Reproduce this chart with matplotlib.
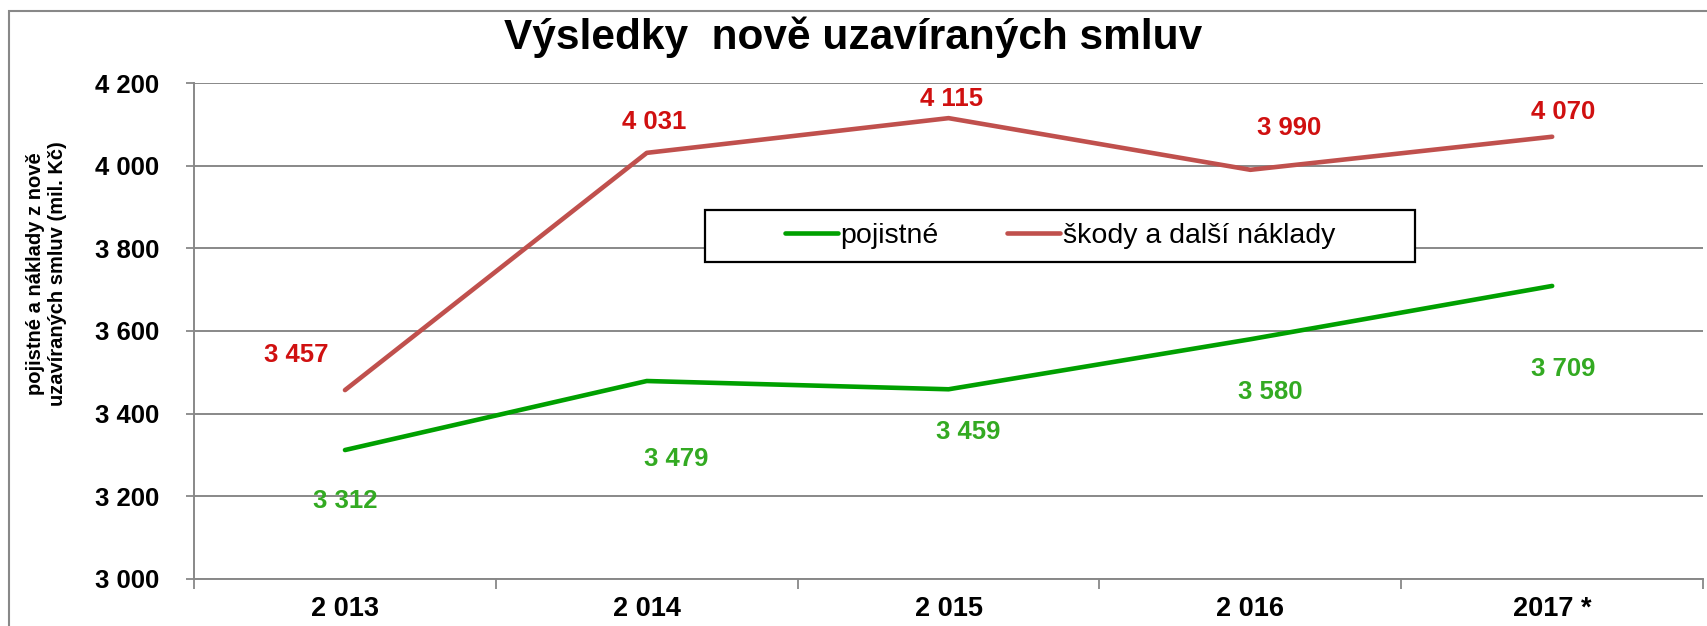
import matplotlib.pyplot as plt
from matplotlib import ticker
from matplotlib.patches import Rectangle

years = ['2 013', '2 014', '2 015', '2 016', '2017 *']
pojistne = [3312, 3479, 3459, 3580, 3709]
skody = [3457, 4031, 4115, 3990, 4070]

# label offsets in points (dx, dy)
offs_pojistne = [(0, -37), (21, -56), (14, -31), (14, -38), (8, -60)]
offs_skody = [(-35, 25), (5, 22), (2, 14), (28, 30), (8, 18)]

c_green = '#00A000'
c_red = '#C0504D'
c_green_txt = '#33AA22'
c_red_txt = '#D01010'

plt.rcParams['font.family'] = ['Liberation Sans', 'DejaVu Sans']

def fmt(v, pos=None):
    return '{:,}'.format(int(v)).replace(',', ' ')

fig = plt.figure(figsize=(17.07, 6.26), dpi=100)
ax = fig.add_axes([0.1137, 0.0751, 0.884, 0.7923])

x = list(range(len(years)))
ax.plot(x, pojistne, color=c_green, lw=3.3, solid_capstyle='round', label='pojistné', zorder=3)
ax.plot(x, skody, color=c_red, lw=3.3, solid_capstyle='round', label='škody a další náklady', zorder=3)

for i in x:
    ax.annotate(fmt(pojistne[i]), (i, pojistne[i]), xytext=offs_pojistne[i],
                textcoords='offset points', ha='center', va='center',
                color=c_green_txt, fontsize=18.5, fontweight='bold')
    ax.annotate(fmt(skody[i]), (i, skody[i]), xytext=offs_skody[i],
                textcoords='offset points', ha='center', va='center',
                color=c_red_txt, fontsize=18.5, fontweight='bold')

ax.set_xlim(-0.5, len(years) - 0.5)
ax.set_ylim(3000, 4200)
ax.yaxis.set_major_locator(ticker.MultipleLocator(200))
ax.yaxis.set_major_formatter(ticker.FuncFormatter(fmt))
ax.set_xticks(x)
ax.set_xticklabels(years)
ax.set_xticks([i - 0.5 for i in range(len(years) + 1)], minor=True)
ax.tick_params(axis='x', which='major', length=0, pad=12, labelsize=19.5)
ax.tick_params(axis='x', which='minor', length=7, width=1.3, color='#888888', direction='out')
ax.tick_params(axis='y', length=6, width=1.3, color='#888888', pad=19, labelsize=18.5)
for lab in ax.get_xticklabels() + ax.get_yticklabels():
    lab.set_fontweight('bold')

ax.grid(axis='y', color='#888888', linewidth=1.4)
ax.set_axisbelow(True)
for s in ['top', 'right']:
    ax.spines[s].set_visible(False)
for s in ['left', 'bottom']:
    ax.spines[s].set_color('#888888')
    ax.spines[s].set_linewidth(1.4)

# legend box
box = Rectangle((705 / 1707, 1 - 262 / 626), 710 / 1707, 52 / 626, transform=fig.transFigure,
                facecolor='white', edgecolor='black', lw=1.6, zorder=4)
ax.add_patch(box)
box.set_clip_on(False)
leg = ax.legend(loc='center', bbox_to_anchor=(1060 / 1707, 1 - 236 / 626),
                bbox_transform=fig.transFigure, ncol=2, frameon=False, fontsize=20.5,
                handlelength=1.85, handletextpad=0.1, columnspacing=2.4)
leg.set_zorder(5)

fig.text(0.5, 1 - 37 / 626, 'Výsledky  nově uzavíraných smluv', ha='center', va='center',
         fontsize=30.5, fontweight='bold')
fig.text(36 / 1707, 1 - 274 / 626, 'pojistné a náklady z nově',
         rotation=90, ha='center', va='center', fontsize=14.5, fontweight='bold')
fig.text(58 / 1707, 1 - 274 / 626, 'uzavíraných smluv (mil. Kč)',
         rotation=90, ha='center', va='center', fontsize=14.5, fontweight='bold')

# outer frame
fig.patches.append(Rectangle((9 / 1707, -0.1), 1.2, 1.1 - 11 / 626, transform=fig.transFigure,
                             fill=False, edgecolor='#888888', lw=1.5))

fig.savefig('out.png', dpi=100)
